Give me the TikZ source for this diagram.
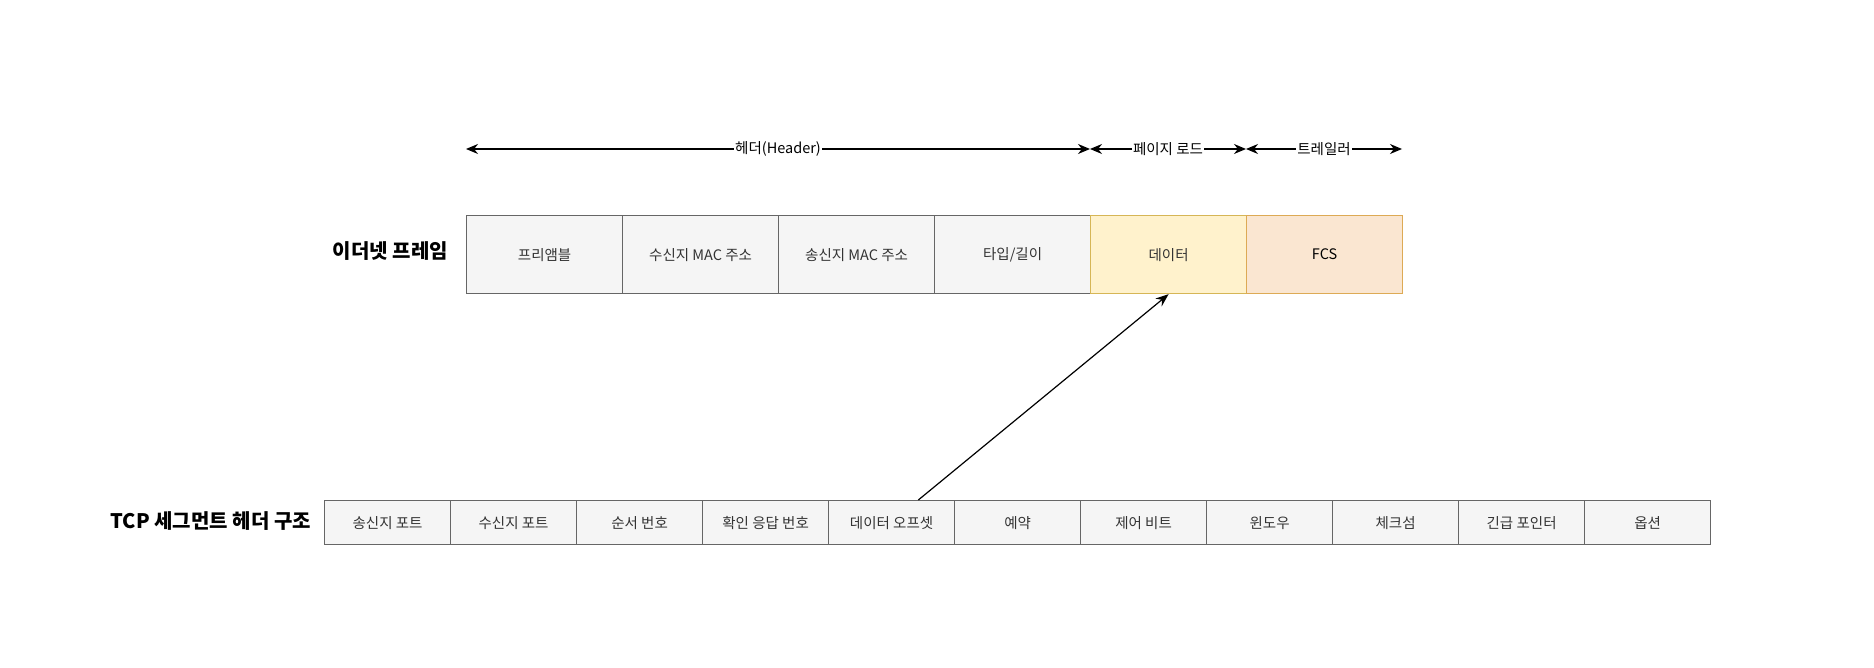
\documentclass[tikz,border=0pt]{standalone}
\usepackage{fontspec}
\setmainfont{Noto Sans CJK KR}
\usetikzlibrary{arrows.meta,calc}
\definecolor{gfill}{HTML}{F5F5F5}
\definecolor{gline}{HTML}{666666}
\definecolor{yfill}{HTML}{FFF2CC}
\definecolor{yline}{HTML}{D6B656}
\definecolor{ofill}{HTML}{FAE6D1}
\definecolor{oline}{HTML}{DDAA55}
\definecolor{tcol}{HTML}{333333}
\begin{document}
\begin{tikzpicture}[x=1pt,y=-1pt,
  ecell/.style={draw=gline, fill=gfill, line width=1.2pt, minimum height=78pt, minimum width=156pt, inner sep=0pt, font=\fontsize{14.5}{16}\selectfont, text=tcol, anchor=north west},
  tcell/.style={draw=gline, fill=gfill, line width=1.2pt, minimum height=44pt, minimum width=126pt, inner sep=0pt, font=\fontsize{14.5}{16}\selectfont, text=tcol, anchor=north west},
  ttl/.style={font=\fontsize{20}{22}\selectfont\bfseries, anchor=east, inner sep=0pt},
  span/.style={{Stealth[length=12pt,width=10pt]}-{Stealth[length=12pt,width=10pt]}, line width=1.2pt},
  lbl/.style={fill=white, inner sep=1pt, font=\fontsize{14.5}{16}\selectfont},
  conn/.style={-{Stealth[length=13pt,width=10pt]}, line width=1.2pt}
]
\path[use as bounding box] (0,0) rectangle (1874,668);

% Ethernet frame
\node[ttl] (ethlbl) at (448,251) {이더넷 프레임};
\node[ecell] (e1) at (466,215) {프리앰블};
\node[ecell] (e2) at (622,215) {수신지 MAC 주소};
\node[ecell] (e3) at (778,215) {송신지 MAC 주소};
\node[ecell] (e4) at (934,215) {타입/길이};
\node[ecell, draw=yline, fill=yfill] (e5) at (1090,215) {데이터};
\node[ecell, draw=oline, fill=ofill, text=black] (e6) at (1246,215) {FCS};

% spans
\coordinate (a0) at (466,149);
\coordinate (a1) at (1090,149);
\coordinate (a2) at (1246,149);
\coordinate (a3) at (1402,149);
\draw[span] (a0) -- node[lbl] {헤더(Header)} (a1);
\draw[span] (a1) -- node[lbl] {페이지 로드} (a2);
\draw[span] (a2) -- node[lbl] {트레일러} (a3);

% TCP
\node[ttl] (tcplbl) at (311,521) {TCP 세그먼트 헤더 구조};
\node[tcell] (t1) at (324,500) {송신지 포트};
\node[tcell] (t2) at (450,500) {수신지 포트};
\node[tcell] (t3) at (576,500) {순서 번호};
\node[tcell] (t4) at (702,500) {확인 응답 번호};
\node[tcell] (t5) at (828,500) {데이터 오프셋};
\node[tcell] (t6) at (954,500) {예약};
\node[tcell] (t7) at (1080,500) {제어 비트};
\node[tcell] (t8) at (1206,500) {윈도우};
\node[tcell] (t9) at (1332,500) {체크섬};
\node[tcell] (t10) at (1458,500) {긴급 포인터};
\node[tcell] (t11) at (1584,500) {옵션};

\coordinate (cs) at ($(t5.north west)!0.71!(t5.north east)$);
\draw[conn] (cs) -- (e5.south);
\end{tikzpicture}
\end{document}
